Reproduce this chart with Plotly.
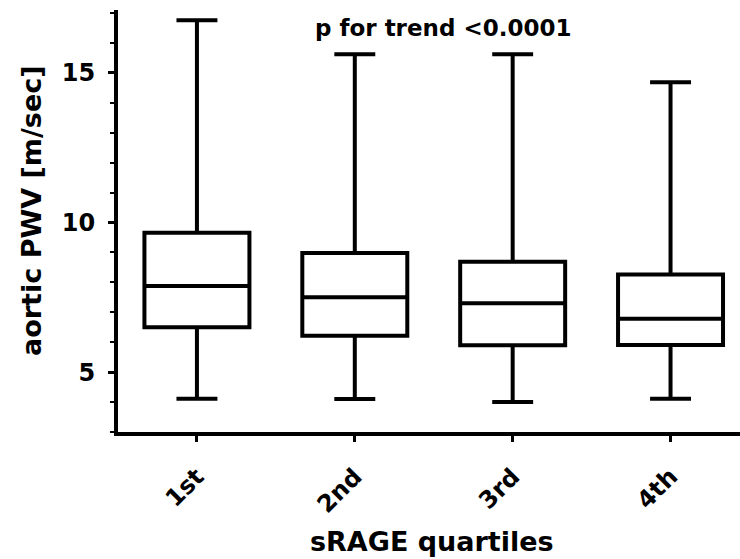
import plotly.graph_objects as go

categories = ["1st", "2nd", "3rd", "4th"]
lower_whisker = [4.11, 4.10, 4.00, 4.11]
q1_values = [6.50, 6.22, 5.90, 5.91]
median_values = [7.88, 7.50, 7.30, 6.78]
q3_values = [9.66, 8.98, 8.69, 8.26]
upper_whisker = [16.76, 15.62, 15.62, 14.69]
y_ticks = [5, 10, 15]

FONT = "DejaVu Sans"

fig = go.Figure()
fig.add_trace(go.Box(
    x=categories,
    lowerfence=lower_whisker,
    q1=q1_values,
    median=median_values,
    q3=q3_values,
    upperfence=upper_whisker,
    fillcolor="white",
    line=dict(color="black", width=4),
    whiskerwidth=0.39,
    boxpoints=False,
    hoverinfo="skip",
    showlegend=False,
))

fig.update_layout(
    width=740, height=559,
    margin=dict(l=118, r=0, t=10, b=127),
    paper_bgcolor="white", plot_bgcolor="white",
    boxgap=0.335,
    boxgroupgap=0,
    font=dict(family=FONT, color="black"),
    showlegend=False,
)

fig.update_xaxes(
    type="category",
    categoryorder="array", categoryarray=categories,
    range=[-0.5, 3.44],
    showline=True, linecolor="black", linewidth=4,
    showgrid=False, zeroline=False,
    ticks="outside", ticklen=6, tickwidth=3, tickcolor="black",
    tickangle=-45,
    tickfont=dict(family=FONT, size=24, weight="bold", color="black"),
    ticklabelstandoff=11,
)

fig.update_yaxes(
    range=[3, 17.1],
    tickvals=y_ticks,
    ticktext=[str(v) for v in y_ticks],
    showline=True, linecolor="black", linewidth=4,
    showgrid=False, zeroline=False,
    ticks="outside", ticklen=6, tickwidth=3, tickcolor="black",
    tickfont=dict(family=FONT, size=24, weight="bold", color="black"),
    ticklabelstandoff=8,
    minor=dict(dtick=1, tick0=0, ticks="outside", ticklen=4, tickwidth=2, tickcolor="black", showgrid=False),
)

fig.add_annotation(
    text="p for trend <0.0001",
    xref="paper", yref="paper",
    x=(443 - 118) / 622, y=(432 - 28) / 422,
    xanchor="center", yanchor="middle",
    showarrow=False,
    font=dict(family=FONT, size=23, weight="bold", color="black"),
)

fig.add_annotation(
    text="sRAGE quartiles",
    xref="paper", yref="paper",
    x=(432 - 118) / 622, y=(432 - 541) / 422,
    xanchor="center", yanchor="middle",
    showarrow=False,
    font=dict(family=FONT, size=27, weight="bold", color="black"),
)

fig.add_annotation(
    text="aortic PWV [m/sec]",
    xref="paper", yref="paper",
    x=(31 - 118) / 622, y=(432 - 211) / 422,
    xanchor="center", yanchor="middle",
    textangle=-90,
    showarrow=False,
    font=dict(family=FONT, size=27, weight="bold", color="black"),
)

fig.write_html("out.html")
